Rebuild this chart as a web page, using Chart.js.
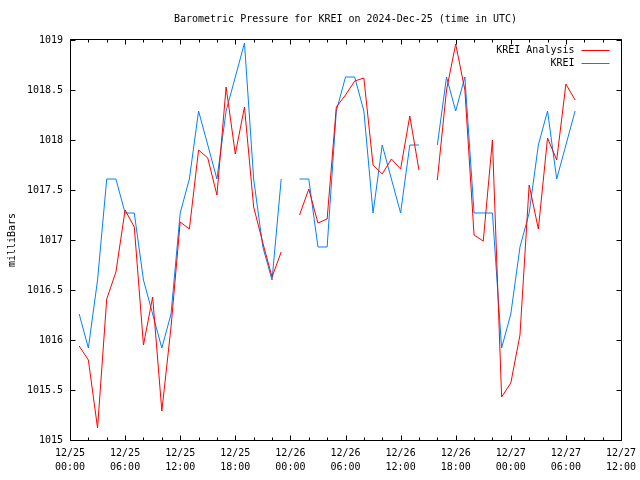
<!DOCTYPE html>
<html>
<head>
<meta charset="utf-8">
<title>KREI barometric pressure</title>
<script src="https://cdn.jsdelivr.net/npm/chart.js@4.4.1/dist/chart.umd.min.js"></script>
<style>
  html, body { margin: 0; padding: 0; background: #fff; }
  #wrap { width: 640px; height: 480px; }
</style>
</head>
<body>
<div id="wrap"><canvas id="pressureChart"></canvas></div>
<script>
// hours after 12/25 00:00 UTC
const hours = [
  1, 2, 3, 4, 5, 6, 7, 8, 9, 10,
  11, 12, 13, 14, 15, 16, 17, 18, 19, 20,
  21, 22, 23, 24, 25, 26, 27, 28, 29, 30,
  31, 32, 33, 34, 35, 36, 37, 38, 39, 40,
  41, 42, 43, 44, 45, 46, 47, 48, 49, 50,
  51, 52, 53, 54, 55
];

// KREI Analysis (mb)
const analysis = [
  1015.94, 1015.80, 1015.12, 1016.41, 1016.68, 1017.30, 1017.13, 1015.95, 1016.43, 1015.29,
  1016.13, 1017.18, 1017.11, 1017.90, 1017.82, 1017.45, 1018.53, 1017.86, 1018.33, 1017.33,
  1016.97, 1016.63, 1016.88, null,    1017.25, 1017.51, 1017.17, 1017.21, 1018.33, 1018.45,
  1018.59, 1018.62, 1017.75, 1017.66, 1017.81, 1017.71, 1018.24, 1017.70, null,    1017.60,
  1018.50, 1018.96, 1018.50, 1017.05, 1016.99, 1018.00, 1015.43, 1015.57, 1016.05, 1017.55,
  1017.11, 1018.02, 1017.80, 1018.56, 1018.40
];

// KREI observed (mb)
const observed = [
  1016.26, 1015.92, 1016.60, 1017.61, 1017.61, 1017.27, 1017.27, 1016.60, 1016.26, 1015.92,
  1016.26, 1017.27, 1017.61, 1018.29, 1017.95, 1017.61, 1018.29, 1018.63, 1018.97, 1017.61,
  1016.93, 1016.60, 1017.61, null,    1017.61, 1017.61, 1016.93, 1016.93, 1018.29, 1018.63,
  1018.63, 1018.29, 1017.27, 1017.95, 1017.61, 1017.27, 1017.95, 1017.95, null,    1017.95,
  1018.63, 1018.29, 1018.63, 1017.27, 1017.27, 1017.27, 1015.92, 1016.26, 1016.93, 1017.27,
  1017.95, 1018.29, 1017.61, 1017.95, 1018.29
];

const xTickLabels = [
  ['12/25', '00:00'], ['12/25', '06:00'], ['12/25', '12:00'], ['12/25', '18:00'],
  ['12/26', '00:00'], ['12/26', '06:00'], ['12/26', '12:00'], ['12/26', '18:00'],
  ['12/27', '00:00'], ['12/27', '06:00'], ['12/27', '12:00']
];

const titleText = 'Barometric Pressure for KREI on 2024-Dec-25 (time in UTC)';
const FONT = "'DejaVu Sans Mono', 'Liberation Mono', monospace";

Chart.defaults.font.family = FONT;
Chart.defaults.font.size = 10;
Chart.defaults.color = '#000';

const toPoints = vals => hours.map((h, i) => ({ x: h, y: vals[i] }));

// gnuplot-style frame: box, inward ticks, title and legend inside the plot
const framePlugin = {
  id: 'frame',
  afterDraw(chart) {
    const { ctx, chartArea: a, scales: { x, y } } = chart;
    const L = Math.round(a.left) + 0.5;
    const R = Math.round(a.right) + 0.5;
    const T = Math.round(a.top) - 0.5;
    const B = Math.round(a.bottom) + 0.5;

    ctx.save();
    ctx.strokeStyle = '#000';
    ctx.lineWidth = 1;
    ctx.beginPath();
    for (let h = 0; h <= 60; h += 2) {
      const px = Math.round(x.getPixelForValue(h)) + 0.5;
      const len = h % 6 === 0 ? 5 : 3;
      ctx.moveTo(px, B); ctx.lineTo(px, B - len);
      ctx.moveTo(px, T); ctx.lineTo(px, T + len);
    }
    for (let p = 1015; p <= 1019; p += 0.5) {
      const py = Math.round(y.getPixelForValue(p)) + 0.5;
      ctx.moveTo(L, py); ctx.lineTo(L + 5, py);
      ctx.moveTo(R, py); ctx.lineTo(R - 5, py);
    }
    ctx.rect(L, T, R - L, B - T);
    ctx.stroke();

    ctx.fillStyle = '#000';
    ctx.font = '10px ' + FONT;
    ctx.textBaseline = 'middle';
    ctx.textAlign = 'center';
    ctx.fillText(titleText, (a.left + a.right) / 2, 19);

    ctx.textAlign = 'right';
    chart.data.datasets.forEach((ds, i) => {
      const ly = Math.round(a.top) + 10 + i * 13 + 0.5;
      ctx.fillText(ds.label, R - 47, ly);
      ctx.strokeStyle = ds.borderColor;
      ctx.beginPath();
      ctx.moveTo(R - 40, ly);
      ctx.lineTo(R - 12, ly);
      ctx.stroke();
    });
    ctx.restore();
  }
};

new Chart(document.getElementById('pressureChart'), {
  type: 'line',
  data: {
    datasets: [
      {
        label: 'KREI Analysis',
        data: toPoints(analysis),
        borderColor: '#ff0000',
        borderWidth: 1,
        pointRadius: 0,
        tension: 0,
        spanGaps: false
      },
      {
        label: 'KREI',
        data: toPoints(observed),
        borderColor: '#0080ff',
        borderWidth: 1,
        pointRadius: 0,
        tension: 0,
        spanGaps: false
      }
    ]
  },
  options: {
    responsive: true,
    maintainAspectRatio: false,
    animation: false,
    layout: { padding: { top: 40, right: 19, bottom: 0, left: 0 } },
    scales: {
      x: {
        type: 'linear',
        min: 0,
        max: 60,
        afterFit: s => {
          s.height = 40;
          s.paddingLeft = 0;
          s.paddingRight = 0;
        },
        grid: { display: false, drawTicks: false },
        border: { display: false },
        ticks: {
          stepSize: 6,
          autoSkip: false,
          maxRotation: 0,
          padding: 7,
          font: { size: 10, lineHeight: 1.35 },
          callback: v => xTickLabels[Math.round(v / 6)]
        }
      },
      y: {
        min: 1015,
        max: 1019,
        afterFit: s => { s.width = 70; },
        grid: { display: false, drawTicks: false },
        border: { display: false },
        ticks: { stepSize: 0.5, padding: 7, callback: v => String(v) },
        title: { display: true, text: 'milliBars', padding: { top: 6 }, font: { size: 10 } }
      }
    },
    plugins: {
      legend: { display: false },
      title: { display: false },
      tooltip: { enabled: false }
    }
  },
  plugins: [framePlugin]
});
</script>
</body>
</html>
